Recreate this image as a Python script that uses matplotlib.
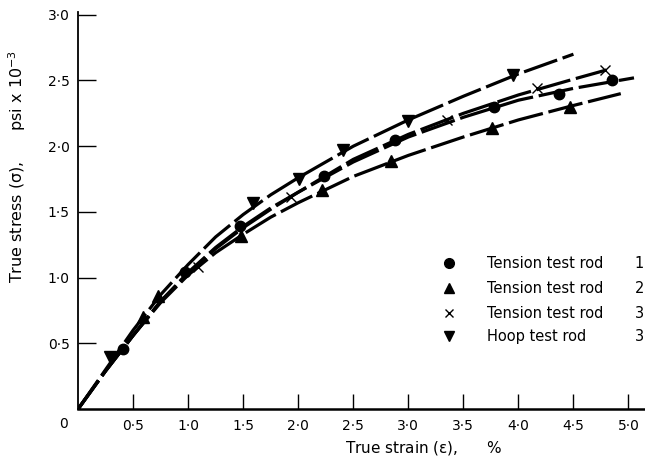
import matplotlib
matplotlib.use('Agg')
import matplotlib.pyplot as plt

plt.rcParams['font.family'] = ['DejaVu Sans']
plt.rcParams['mathtext.default'] = 'regular'

# measured points (strain %, stress psi x 10^-3)
rod1_x = [0.41, 0.97, 1.47, 2.23, 2.88, 3.78, 4.37, 4.85]
rod1_y = [0.46, 1.04, 1.39, 1.77, 2.05, 2.30, 2.40, 2.50]
rod2_x = [0.59, 0.73, 1.48, 2.22, 2.84, 3.76, 4.47]
rod2_y = [0.70, 0.86, 1.32, 1.67, 1.89, 2.14, 2.30]
rod3_x = [1.09, 1.93, 3.35, 4.17, 4.79]
rod3_y = [1.08, 1.61, 2.20, 2.44, 2.58]
hoop_x = [0.29, 1.59, 2.01, 2.41, 3.00, 3.95]
hoop_y = [0.40, 1.57, 1.75, 1.97, 2.19, 2.54]

# fitted curves
c1_x = [0, 0.25, 0.5, 0.75, 1.0, 1.25, 1.5, 1.75, 2.0, 2.5, 3.0, 3.5, 4.0, 4.5, 5.05]
c1_y = [0, 0.29, 0.56, 0.82, 1.04, 1.23, 1.39, 1.53, 1.65, 1.88, 2.07, 2.22, 2.35, 2.44, 2.52]
c2_x = [0, 0.25, 0.5, 0.75, 1.0, 1.25, 1.5, 1.75, 2.0, 2.5, 3.0, 3.5, 4.0, 4.5, 4.93]
c2_y = [0, 0.29, 0.56, 0.81, 1.02, 1.19, 1.33, 1.46, 1.57, 1.77, 1.93, 2.07, 2.20, 2.31, 2.40]
c3_x = [0, 0.25, 0.5, 0.75, 1.0, 1.25, 1.5, 1.75, 2.0, 2.5, 3.0, 3.5, 4.0, 4.5, 4.8]
c3_y = [0, 0.29, 0.56, 0.82, 1.03, 1.22, 1.38, 1.52, 1.65, 1.90, 2.09, 2.25, 2.39, 2.51, 2.58]
ch_x = [0, 0.25, 0.5, 0.75, 1.0, 1.25, 1.5, 1.75, 2.0, 2.5, 3.0, 3.5, 4.0, 4.5]
ch_y = [0, 0.30, 0.60, 0.87, 1.10, 1.31, 1.48, 1.63, 1.76, 2.00, 2.20, 2.38, 2.55, 2.70]

xticks = [0.5, 1.0, 1.5, 2.0, 2.5, 3.0, 3.5, 4.0, 4.5, 5.0]
yticks = [0.5, 1.0, 1.5, 2.0, 2.5, 3.0]

labels = ['Tension test rod', 'Tension test rod', 'Tension test rod', 'Hoop test rod']
rod_nums = ['1', '2', '3', '3']
markers = ['o', '^', 'x', 'v']

fig = plt.figure(figsize=(6.45, 4.67), dpi=100)
ax = fig.add_axes([0.121, 0.124, 0.879, 0.850])

for cx, cy in [(c1_x, c1_y), (c2_x, c2_y), (c3_x, c3_y), (ch_x, ch_y)]:
    ax.plot(cx, cy, color='black', lw=2.3, dashes=(11, 1.8), solid_capstyle='butt')

ax.plot(rod1_x, rod1_y, 'o', color='black', ms=7.5, ls='none')
ax.plot(rod2_x, rod2_y, '^', color='black', ms=8, ls='none')
ax.plot(rod3_x, rod3_y, 'x', color='black', ms=7, mew=1.0, ls='none')
ax.plot(hoop_x, hoop_y, 'v', color='black', ms=8, ls='none')

ax.set_xlim(0, 5.15)
ax.set_ylim(0, 3.02)
ax.spines['top'].set_visible(False)
ax.spines['right'].set_visible(False)
ax.spines['left'].set_linewidth(1.3)
ax.spines['bottom'].set_linewidth(1.8)

ax.set_xticks(xticks)
ax.set_xticklabels([f'{t:.1f}'.replace('.', '\u00b7') for t in xticks], fontsize=10)
ax.set_yticks(yticks)
ax.set_yticklabels([f'{t:.1f}'.replace('.', '\u00b7') for t in yticks], fontsize=10)
ax.tick_params(axis='x', direction='in', length=11, width=1.0, pad=7)
ax.tick_params(axis='y', direction='in', length=13, width=1.0, pad=6)
ax.text(-0.018, -0.038, '0', transform=ax.transAxes, fontsize=10, ha='right', va='center')

ax.set_xlabel('True strain ($\\epsilon$),      %', fontsize=11)
ax.xaxis.set_label_coords(0.61, -0.075)
ax.set_ylabel('True stress ($\\sigma$),      psi x 10$^{-3}$', fontsize=11.5)
ax.yaxis.set_label_coords(-0.088, 0.61)

# legend
rows = [0.368, 0.305, 0.241, 0.183]
for mk, lab, num, ry in zip(markers, labels, rod_nums, rows):
    ax.plot([0.654], [ry], mk, color='black', ms=7 if mk != 'x' else 6, mew=1.0,
            transform=ax.transAxes, clip_on=False)
    ax.text(0.721, ry, lab, transform=ax.transAxes, fontsize=10.5, va='center', ha='left')
    ax.text(0.998, ry, num, transform=ax.transAxes, fontsize=10.5, va='center', ha='right')

fig.savefig('out.png', dpi=100)
